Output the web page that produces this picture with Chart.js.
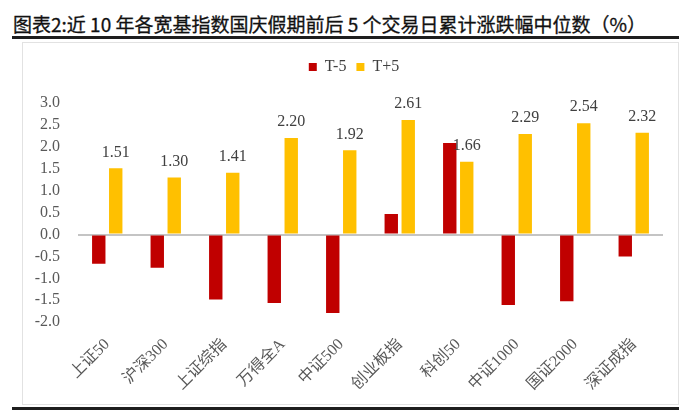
<!DOCTYPE html>
<html>
<head>
<meta charset="utf-8">
<script src="https://cdn.jsdelivr.net/npm/chart.js@4.4.1/dist/chart.umd.min.js"></script>
<style>
    body { margin: 0; background: #fff; width: 698px; height: 416px; overflow: hidden; position: relative; }
    #title { position: absolute; left: 13px; top: 14px; font: 400 19px "Noto Sans CJK SC", sans-serif; line-height: 20px; color: #111; white-space: nowrap; -webkit-text-stroke: 0.3px #111; }
    .rule { position: absolute; left: 12px; width: 667px; height: 3px; background: #1e1e1e; }
    #frame { position: absolute; left: 22px; top: 42px; width: 655px; height: 361px; border: 1px solid #e2e2e2; }
</style>
</head>
<body>
<div id="title">图表2:近 10 年各宽基指数国庆假期前后 5 个交易日累计涨跌幅中位数（%）</div>
<div class="rule" style="top:36px"></div>
<div id="frame"><canvas id="chart"></canvas></div>
<div class="rule" style="top:407px"></div>
<script>
// data
const categories = ['上证50', '沪深300', '上证综指', '万得全A', '中证500', '创业板指', '科创50', '中证1000', '国证2000', '深证成指'];
const seriesNames = ['T-5', 'T+5'];
const beforeHoliday = [-0.67, -0.76, -1.48, -1.56, -1.79, 0.47, 2.09, -1.61, -1.52, -0.50];
const afterHoliday = [1.51, 1.30, 1.41, 2.20, 1.92, 2.61, 1.66, 2.29, 2.54, 2.32];
const yMin = -2.0;
const yMax = 3.0;
const yStep = 0.5;

const serif = '"Liberation Serif", "Noto Sans CJK SC", serif';

// extra room under the legend, and nudge it a little to the right
const legendSpacer = {
    id: 'legendSpacer',
    beforeInit(chart) {
        const fit = chart.legend.fit;
        chart.legend.fit = function () {
            fit.call(this);
            this.height += 18;
        };
    },
    afterLayout(chart) {
        chart.legend.left += 11;
        chart.legend.right += 11;
    }
};

// value labels above the T+5 bars
const valueLabels = {
    id: 'valueLabels',
    afterDatasetsDraw(chart) {
        const ctx = chart.ctx;
        const meta = chart.getDatasetMeta(1);
        ctx.save();
        ctx.font = '16px ' + serif;
        ctx.fillStyle = '#404040';
        ctx.textAlign = 'center';
        ctx.textBaseline = 'middle';
        meta.data.forEach(function (bar, i) {
            ctx.fillText(afterHoliday[i].toFixed(2), bar.x, bar.y - 16);
        });
        ctx.restore();
    }
};

const ctx = document.getElementById('chart').getContext('2d');
new Chart(ctx, {
    type: 'bar',
    data: {
        labels: categories,
        datasets: [{
            label: seriesNames[0],
            data: beforeHoliday,
            backgroundColor: '#C00000',
            categoryPercentage: 0.58,
            barPercentage: 0.79
        }, {
            label: seriesNames[1],
            data: afterHoliday,
            backgroundColor: '#FFC000',
            categoryPercentage: 0.58,
            barPercentage: 0.79
        }]
    },
    plugins: [legendSpacer, valueLabels],
    options: {
        responsive: true,
        maintainAspectRatio: false,
        animation: false,
        layout: {
            padding: { top: 6, right: 15, left: 0, bottom: 5 }
        },
        plugins: {
            legend: {
                position: 'top',
                labels: {
                    boxWidth: 8,
                    boxHeight: 8,
                    padding: 10,
                    color: '#404040',
                    font: { family: serif, size: 16 }
                }
            },
            tooltip: { enabled: false }
        },
        scales: {
            x: {
                grid: { display: false },
                border: { display: false },
                ticks: {
                    autoSkip: false,
                    minRotation: 45,
                    maxRotation: 45,
                    padding: 5,
                    color: '#595959',
                    font: { family: serif, size: 16 }
                }
            },
            y: {
                min: yMin,
                max: yMax,
                afterFit: function (scale) {
                    scale.width = 55;
                },
                border: { display: false },
                grid: {
                    drawTicks: false,
                    lineWidth: 2,
                    color: function (c) {
                        return c.tick && c.tick.value === 0 ? '#c4c4c4' : 'rgba(0,0,0,0)';
                    }
                },
                ticks: {
                    autoSkip: false,
                    stepSize: yStep,
                    padding: 18,
                    color: '#595959',
                    font: { family: serif, size: 16 },
                    callback: function (v) {
                        return v.toFixed(1);
                    }
                }
            }
        }
    }
});
</script>
</body>
</html>
